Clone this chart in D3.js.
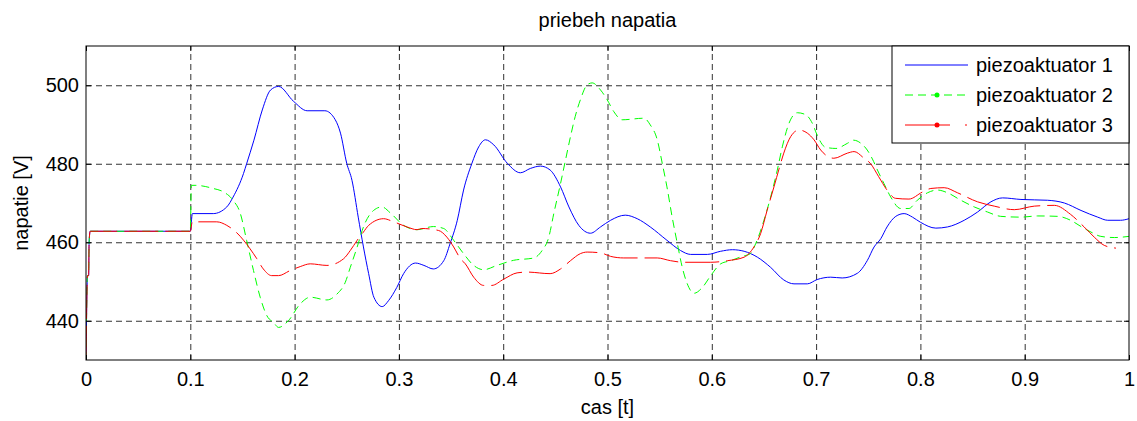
<!DOCTYPE html>
<html>
<head>
<meta charset="utf-8">
<script src="https://cdn.jsdelivr.net/npm/d3@7"></script>
<style>
  body { margin: 0; background: #fff; }
  svg text { font-family: Arial, "Liberation Sans", sans-serif; fill: #000; }
</style>
</head>
<body>
<svg id="chart" width="1137" height="421"></svg>
<script>
// chart values
const xTicks = [0, 0.1, 0.2, 0.3, 0.4, 0.5, 0.6, 0.7, 0.8, 0.9, 1];
const yTicks = [440, 460, 480, 500];
const seriesNames = ["piezoaktuator 1", "piezoaktuator 2", "piezoaktuator 3"];

const startup = [[0, 430], [0.0015, 451.5], [0.0025, 451.5], [0.003, 460], [0.004, 462.8], [0.1, 462.8]];

const piezo1 = [[0.102, 467.3], [0.122, 467.3], [0.135, 469], [0.141, 471.5], [0.151, 477.5], [0.154, 480],
  [0.161, 486], [0.169, 493.7], [0.177, 498.8], [0.1846, 499.7], [0.199, 495.9], [0.212, 493.5], [0.229, 493.5],
  [0.239, 491.2], [0.244, 487.8], [0.25, 480.1], [0.255, 475.8], [0.261, 466.4], [0.266, 458.8], [0.271, 452],
  [0.276, 446], [0.284, 443.6], [0.29, 445.1], [0.298, 448.5], [0.3045, 452], [0.316, 454.7], [0.324, 454.1],
  [0.333, 453.2], [0.343, 455.3], [0.349, 459.6], [0.356, 465.6], [0.362, 473.3], [0.37, 480.1], [0.3765, 484.3],
  [0.383, 486.1], [0.391, 484.8], [0.404, 480.1], [0.4165, 477.7], [0.426, 478.8], [0.4357, 479.4], [0.445, 478.4],
  [0.455, 474.1], [0.463, 469], [0.4725, 464.3], [0.4837, 462.3], [0.4933, 463.9], [0.503, 465.6], [0.517, 466.9],
  [0.5285, 466], [0.541, 463.9], [0.557, 460.5], [0.57, 457.9], [0.5797, 456.9], [0.5957, 456.9], [0.6085, 457.7],
  [0.6197, 458.1], [0.631, 457.7], [0.6437, 456.2], [0.6564, 453.6], [0.669, 450.4], [0.6788, 449.4], [0.6916, 449.4],
  [0.701, 450.5], [0.714, 451.1], [0.725, 450.9], [0.7396, 452.1], [0.749, 455.3], [0.7556, 458.8], [0.762, 460.9],
  [0.768, 463.9], [0.7764, 466.6], [0.7844, 467.3], [0.7924, 466.4], [0.8, 465.1], [0.8148, 463.6], [0.826, 463.9],
  [0.842, 465.6], [0.8548, 467.7], [0.8676, 470.3], [0.8788, 471.3], [0.8964, 470.9], [0.922, 470.7], [0.938, 470],
  [0.954, 468.1], [0.97, 466.4], [0.9796, 465.6], [0.992, 465.6], [1, 466]];

const piezo2 = [[0.101, 474.5], [0.1046, 474.5], [0.122, 473.7], [0.132, 472.8], [0.141, 470.7], [0.148, 467.3],
  [0.154, 460.5], [0.1606, 452.8], [0.167, 446], [0.1734, 441.3], [0.18, 439.5], [0.1846, 438.3], [0.194, 440],
  [0.2054, 444.3], [0.215, 446], [0.231, 445.3], [0.2406, 446.8], [0.2486, 449.8], [0.2534, 453.6], [0.26, 458.8],
  [0.266, 463.9], [0.2757, 468.1], [0.2838, 469], [0.2917, 467.5], [0.3045, 464.3], [0.3174, 463.2], [0.333, 464],
  [0.343, 463.5], [0.3525, 460.5], [0.362, 457.1], [0.3717, 454.1], [0.3813, 453], [0.394, 454.1], [0.41, 455.4],
  [0.4293, 456], [0.4373, 457.9], [0.4437, 461.3], [0.4485, 467.3], [0.455, 475], [0.4597, 480.9], [0.4645, 486.9],
  [0.469, 492], [0.474, 496.3], [0.4805, 500.1], [0.4853, 500.6], [0.4933, 498.8], [0.4997, 496.3], [0.506, 493.3],
  [0.514, 491.2], [0.535, 491.6], [0.541, 489.9], [0.5477, 486.1], [0.5525, 480.1], [0.557, 474.1], [0.562, 466.4],
  [0.567, 459.6], [0.5717, 453.6], [0.5765, 449.4], [0.583, 447], [0.591, 448.5], [0.599, 451.5], [0.6085, 454.5],
  [0.618, 455.3], [0.629, 456.4], [0.637, 457.1], [0.642, 459.6], [0.65, 465.6], [0.6564, 471.5], [0.6628, 478.4],
  [0.6676, 484.3], [0.674, 490.3], [0.682, 493], [0.69, 492.5], [0.6964, 490.3], [0.701, 487.3], [0.709, 484.2],
  [0.719, 483.9], [0.73, 485.2], [0.736, 486], [0.743, 485.2], [0.749, 483.5], [0.754, 481.2], [0.7588, 478.4],
  [0.765, 475], [0.7716, 471.5], [0.781, 468.6], [0.789, 468.6], [0.797, 470.7], [0.8068, 472.6], [0.8164, 473.3],
  [0.826, 472.6], [0.8388, 470.7], [0.8516, 469], [0.8644, 467.7], [0.877, 466.6], [0.8964, 466.4], [0.9124, 466.7],
  [0.9316, 466.6], [0.944, 465.6], [0.954, 464], [0.9635, 462.6], [0.973, 461.5], [0.986, 461.2], [1, 461.5]];

const piezo3 = [[0.102, 465.3], [0.108, 465.2], [0.1254, 465.2], [0.135, 464.3], [0.1446, 462.4], [0.1574, 458.3],
  [0.1638, 455.8], [0.17, 453.2], [0.178, 451.5], [0.1846, 451.5], [0.1958, 452.8], [0.2054, 453.8], [0.215, 454.5],
  [0.231, 454.1], [0.247, 455.8], [0.2534, 457.9], [0.26, 460.5], [0.266, 462.6], [0.271, 464.3], [0.2853, 466],
  [0.295, 465.2], [0.3078, 463.9], [0.3174, 463.2], [0.322, 463.5], [0.338, 463], [0.346, 461.3], [0.3525, 458.8],
  [0.359, 455.8], [0.3637, 454.5], [0.3717, 451.1], [0.3813, 449], [0.389, 449], [0.4005, 450.6], [0.4133, 452.2],
  [0.423, 452.4], [0.445, 452], [0.455, 453.2], [0.4645, 455.3], [0.474, 457.1], [0.4805, 457.5], [0.4933, 457.3],
  [0.503, 456.4], [0.5156, 456], [0.5317, 456], [0.5477, 456], [0.5605, 455.3], [0.573, 454.9], [0.599, 454.9],
  [0.615, 455.3], [0.631, 456.2], [0.6404, 458.8], [0.6468, 462.2], [0.653, 468.1], [0.6596, 474.1], [0.666, 480.1],
  [0.669, 482.7], [0.6756, 486.9], [0.6836, 488.6], [0.6916, 487.8], [0.698, 486.1], [0.7044, 483.5], [0.717, 481.4],
  [0.73, 482.7], [0.7364, 483.1], [0.746, 481.4], [0.752, 480.1], [0.76, 476.7], [0.768, 473.3], [0.776, 471.2],
  [0.789, 471], [0.802, 472.8], [0.81, 473.7], [0.8228, 473.9], [0.8356, 472.6], [0.8548, 470.3], [0.8708, 469.2],
  [0.89, 468.3], [0.9092, 469.2], [0.9284, 469.4], [0.944, 467.1], [0.957, 463.9], [0.9667, 461.3], [0.9763, 459.2],
  [0.9875, 458.5]];

const colors = ["#0000ff", "#00ff00", "#ff0000"];
const dashes = [null, "8,5", "34,7"];

// layout
const plotLeft = 86, plotRight = 1129, plotTop = 46, plotBottom = 360;
const fontSize = 20;
const svg = d3.select("#chart");

const x = d3.scaleLinear().domain([0, 1]).range([plotLeft, plotRight]);
const y = d3.scaleLinear().domain([430, 510]).range([plotBottom, plotTop]);

svg.append("defs").append("clipPath").attr("id", "plotClip")
  .append("rect").attr("x", plotLeft).attr("y", plotTop)
  .attr("width", plotRight - plotLeft).attr("height", plotBottom - plotTop);

// grid lines (dashed, MATLAB style)
svg.append("g")
  .attr("transform", "translate(0," + plotBottom + ")")
  .call(d3.axisBottom(x).tickValues(xTicks.slice(1, -1)).tickSize(-(plotBottom - plotTop)).tickFormat(""))
  .call(g => g.select(".domain").remove())
  .selectAll("line").attr("stroke", "#333").attr("stroke-dasharray", "6,4");

svg.append("g")
  .attr("transform", "translate(" + plotLeft + ",0)")
  .call(d3.axisLeft(y).tickValues(yTicks).tickSize(-(plotRight - plotLeft)).tickFormat(""))
  .call(g => g.select(".domain").remove())
  .selectAll("line").attr("stroke", "#333").attr("stroke-dasharray", "6,4");

// series
const line = d3.line()
  .x(d => x(d[0]))
  .y(d => y(d[1]))
  .curve(d3.curveMonotoneX);

const plot = svg.append("g").attr("clip-path", "url(#plotClip)");
[piezo1, piezo2, piezo3].forEach((s, i) => {
  plot.append("path")
    .datum(startup.concat(s))
    .attr("fill", "none")
    .attr("stroke", colors[i])
    .attr("stroke-width", 1)
    .attr("stroke-dasharray", dashes[i])
    .attr("d", line);
});

// axes with inward ticks
const tickLen = 5;
svg.append("g")
  .attr("transform", "translate(0," + plotBottom + ")")
  .call(d3.axisBottom(x).tickValues(xTicks).tickSize(-tickLen).tickPadding(12).tickFormat(d3.format("")))
  .call(g => g.select(".domain").remove())
  .call(g => g.selectAll("text").attr("font-size", fontSize));

svg.append("g")
  .attr("transform", "translate(0," + plotTop + ")")
  .call(d3.axisTop(x).tickValues(xTicks).tickSize(-tickLen).tickFormat(""))
  .call(g => g.select(".domain").remove());

svg.append("g")
  .attr("transform", "translate(" + plotLeft + ",0)")
  .call(d3.axisLeft(y).tickValues(yTicks).tickSize(-tickLen).tickPadding(7))
  .call(g => g.select(".domain").remove())
  .call(g => g.selectAll("text").attr("font-size", fontSize));

svg.append("g")
  .attr("transform", "translate(" + plotRight + ",0)")
  .call(d3.axisRight(y).tickValues(yTicks).tickSize(-tickLen).tickFormat(""))
  .call(g => g.select(".domain").remove());

// frame
svg.append("rect")
  .attr("x", plotLeft).attr("y", plotTop)
  .attr("width", plotRight - plotLeft).attr("height", plotBottom - plotTop)
  .attr("fill", "none").attr("stroke", "#000").attr("stroke-width", 1);

// labels
svg.append("text")
  .attr("x", (plotLeft + plotRight) / 2).attr("y", 27)
  .attr("text-anchor", "middle").attr("font-size", fontSize)
  .text("priebeh napatia");

svg.append("text")
  .attr("x", (plotLeft + plotRight) / 2).attr("y", 414)
  .attr("text-anchor", "middle").attr("font-size", fontSize)
  .text("cas [t]");

svg.append("text")
  .attr("transform", "translate(28," + (plotTop + plotBottom) / 2 + ") rotate(-90)")
  .attr("text-anchor", "middle").attr("font-size", fontSize)
  .text("napatie [V]");

// legend
const legend = svg.append("g");
legend.append("rect")
  .attr("x", 892).attr("y", plotTop)
  .attr("width", plotRight - 892).attr("height", 97)
  .attr("fill", "#fff").attr("stroke", "#000");

seriesNames.forEach((name, i) => {
  const ly = 65 + i * 30;
  legend.append("line")
    .attr("x1", 905).attr("x2", 968).attr("y1", ly).attr("y2", ly)
    .attr("stroke", colors[i])
    .attr("stroke-dasharray", i === 1 ? "8,5" : i === 2 ? "45,15,2,10" : null);
  if (i > 0) {
    legend.append("circle")
      .attr("cx", 937).attr("cy", ly).attr("r", 2.5)
      .attr("fill", colors[i]);
  }
  legend.append("text")
    .attr("x", 976).attr("y", ly + 7)
    .attr("font-size", fontSize)
    .text(name);
});
</script>
</body>
</html>
